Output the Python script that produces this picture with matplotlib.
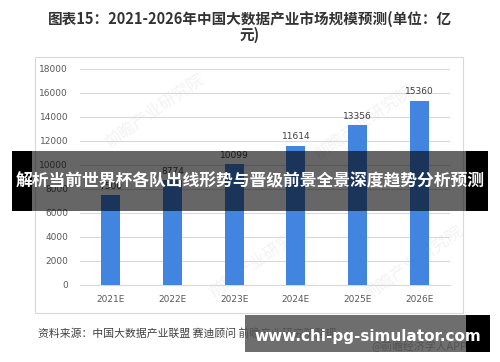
import matplotlib
matplotlib.use("Agg")
import matplotlib.pyplot as plt
from matplotlib.patches import Rectangle

plt.rcParams['font.family'] = ['Noto Sans CJK SC', 'DejaVu Sans']

categories = ["2021E", "2022E", "2023E", "2024E", "2025E", "2026E"]
values = [7500, 8774, 10099, 11614, 13356, 15360]
yticks = [0, 2000, 4000, 6000, 8000, 10000, 12000, 14000, 16000, 18000]

title = "图表15：2021-2026年中国大数据产业市场规模预测(单位：亿\n元)"
source = "资料来源：中国大数据产业联盟 赛迪顾问 前瞻产业研究院整理"
credit = "@前瞻经济学人APP"
banner = "解析当前世界杯各队出线形势与晋级前景全景深度趋势分析预测"
url = "www.chi-pg-simulator.com"
watermark = "前瞻产业研究院"

W, H = 500, 362
fig = plt.figure(figsize=(W / 100, H / 100), dpi=100)
fig.patch.set_facecolor("white")

def fx(x):
    return x / W

def fy(y):
    return 1 - y / H

# chart border box
fig.add_artist(Rectangle((fx(35), fy(313)), fx(463) - fx(35), fy(57) - fy(313),
                         transform=fig.transFigure, fill=False, edgecolor="#d9d9d9", lw=0.8))

ax = fig.add_axes([fx(80), fy(285), fx(450) - fx(80), fy(69) - fy(285)])
ax.patch.set_alpha(0)
x = list(range(len(categories)))
ax.bar(x, values, width=0.31, color="#4285e0", zorder=3)
for xi, v in zip(x, values):
    ax.text(xi, v + 350, str(v), ha="center", va="bottom", fontsize=6.5,
            color="#404040", family=['DejaVu Sans'], zorder=4)
ax.set_xlim(-0.5, len(categories) - 0.5)
ax.set_ylim(0, 18000)
ax.set_yticks(yticks)
ax.set_yticklabels([str(t) for t in yticks], fontsize=6.5, color="#595959", family=['DejaVu Sans'])
ax.set_xticks(x)
ax.set_xticklabels(categories, fontsize=6.5, color="#595959", family=['DejaVu Sans'])
ax.grid(axis="y", color="#d9d9d9", lw=0.8, zorder=0)
for s in ax.spines.values():
    s.set_visible(False)
ax.spines["bottom"].set_visible(True)
ax.spines["bottom"].set_color("#d9d9d9")
ax.tick_params(length=0)
ax.tick_params(axis="x", pad=7)
ax.tick_params(axis="y", pad=8.5)

# faint watermarks (behind the bars)
for (wx, wy) in [(0.7, 14500), (2.4, 2000), (4.1, 13500), (4.9, 1800)]:
    ax.text(wx, wy, watermark, fontsize=12, color="#f3f3f3",
            rotation=35, ha="center", va="center", zorder=1)

# title
fig.text(0.5, fy(27), title, ha="center", va="center", fontsize=10.5,
         fontweight="bold", color="#333333", linespacing=1.0)

# source
fig.text(fx(38), fy(333), source, ha="left", va="center", fontsize=7.8, color="#404040")
fig.text(fx(467), fy(346), credit, ha="right", va="center", fontsize=7.8, color="#404040")

# banner overlay
fig.add_artist(Rectangle((fx(32), fy(211)), fx(466) - fx(32), fy(151) - fy(211),
                         transform=fig.transFigure, color="black", alpha=0.6, lw=0, zorder=10))
fig.add_artist(Rectangle((fx(12), fy(211)), fx(32) - fx(12), fy(151) - fy(211),
                         transform=fig.transFigure, color="black", lw=0, zorder=10))
fig.add_artist(Rectangle((fx(466), fy(211)), fx(488) - fx(466), fy(151) - fy(211),
                         transform=fig.transFigure, color="black", lw=0, zorder=10))
fig.text(fx(250), fy(181), banner, ha="center", va="center", fontsize=12.1,
         fontweight="bold", color="white", zorder=11)

# url overlay
fig.add_artist(Rectangle((fx(245), fy(352)), fx(466) - fx(245), fy(315) - fy(352),
                         transform=fig.transFigure, color="#555555", alpha=0.85, lw=0, zorder=10))
fig.add_artist(Rectangle((fx(466), fy(352)), fx(490) - fx(466), fy(315) - fy(352),
                         transform=fig.transFigure, color="black", lw=0, zorder=10))
fig.text(fx(368), fy(336), url, ha="center", va="center", fontsize=11,
         fontweight="bold", color="white", family=['DejaVu Sans'], zorder=11)

fig.savefig("out.png", dpi=100)
